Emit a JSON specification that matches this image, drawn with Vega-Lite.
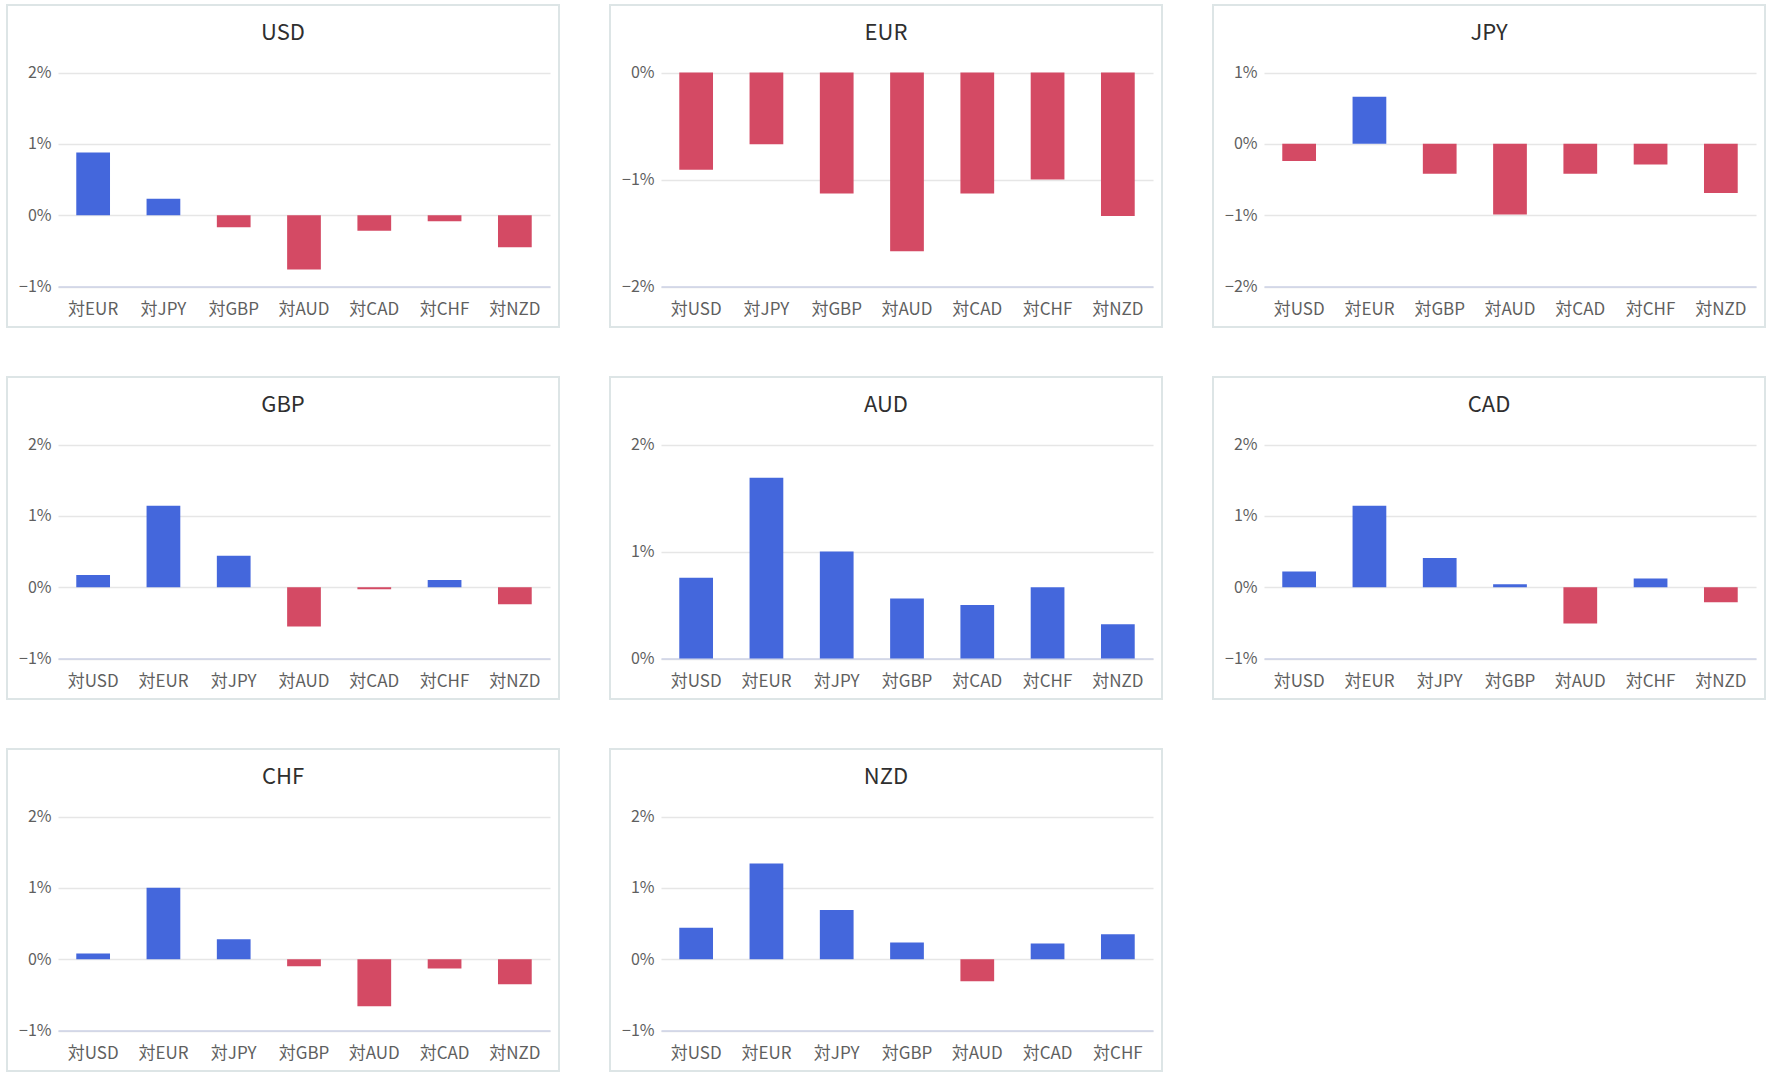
{
  "$schema": "https://vega.github.io/schema/vega-lite/v6.json",
  "padding": {"left": 6, "top": 4, "right": 0, "bottom": 0},
  "background": "white",
  "data": {"name": "fx"},
  "datasets": {
    "fx": [
      {"base": "USD", "target": "対EUR", "value": 0.88},
      {"base": "USD", "target": "対JPY", "value": 0.23},
      {"base": "USD", "target": "対GBP", "value": -0.17},
      {"base": "USD", "target": "対AUD", "value": -0.76},
      {"base": "USD", "target": "対CAD", "value": -0.22},
      {"base": "USD", "target": "対CHF", "value": -0.085},
      {"base": "USD", "target": "対NZD", "value": -0.45},
      {"base": "EUR", "target": "対USD", "value": -0.91},
      {"base": "EUR", "target": "対JPY", "value": -0.67},
      {"base": "EUR", "target": "対GBP", "value": -1.13},
      {"base": "EUR", "target": "対AUD", "value": -1.67},
      {"base": "EUR", "target": "対CAD", "value": -1.13},
      {"base": "EUR", "target": "対CHF", "value": -1.0},
      {"base": "EUR", "target": "対NZD", "value": -1.34},
      {"base": "JPY", "target": "対USD", "value": -0.24},
      {"base": "JPY", "target": "対EUR", "value": 0.66},
      {"base": "JPY", "target": "対GBP", "value": -0.42},
      {"base": "JPY", "target": "対AUD", "value": -0.99},
      {"base": "JPY", "target": "対CAD", "value": -0.42},
      {"base": "JPY", "target": "対CHF", "value": -0.29},
      {"base": "JPY", "target": "対NZD", "value": -0.69},
      {"base": "GBP", "target": "対USD", "value": 0.17},
      {"base": "GBP", "target": "対EUR", "value": 1.14},
      {"base": "GBP", "target": "対JPY", "value": 0.44},
      {"base": "GBP", "target": "対AUD", "value": -0.55},
      {"base": "GBP", "target": "対CAD", "value": -0.03},
      {"base": "GBP", "target": "対CHF", "value": 0.1},
      {"base": "GBP", "target": "対NZD", "value": -0.24},
      {"base": "AUD", "target": "対USD", "value": 0.755},
      {"base": "AUD", "target": "対EUR", "value": 1.69},
      {"base": "AUD", "target": "対JPY", "value": 1.0},
      {"base": "AUD", "target": "対GBP", "value": 0.56},
      {"base": "AUD", "target": "対CAD", "value": 0.5},
      {"base": "AUD", "target": "対CHF", "value": 0.665},
      {"base": "AUD", "target": "対NZD", "value": 0.32},
      {"base": "CAD", "target": "対USD", "value": 0.22},
      {"base": "CAD", "target": "対EUR", "value": 1.14},
      {"base": "CAD", "target": "対JPY", "value": 0.41},
      {"base": "CAD", "target": "対GBP", "value": 0.04},
      {"base": "CAD", "target": "対AUD", "value": -0.51},
      {"base": "CAD", "target": "対CHF", "value": 0.12},
      {"base": "CAD", "target": "対NZD", "value": -0.21},
      {"base": "CHF", "target": "対USD", "value": 0.08},
      {"base": "CHF", "target": "対EUR", "value": 1.0},
      {"base": "CHF", "target": "対JPY", "value": 0.28},
      {"base": "CHF", "target": "対GBP", "value": -0.1},
      {"base": "CHF", "target": "対AUD", "value": -0.66},
      {"base": "CHF", "target": "対CAD", "value": -0.13},
      {"base": "CHF", "target": "対NZD", "value": -0.35},
      {"base": "NZD", "target": "対USD", "value": 0.44},
      {"base": "NZD", "target": "対EUR", "value": 1.34},
      {"base": "NZD", "target": "対JPY", "value": 0.69},
      {"base": "NZD", "target": "対GBP", "value": 0.235},
      {"base": "NZD", "target": "対AUD", "value": -0.31},
      {"base": "NZD", "target": "対CAD", "value": 0.22},
      {"base": "NZD", "target": "対CHF", "value": 0.35}
    ]
  },
  "columns": 3,
  "spacing": {"row": 48, "column": 49},
  "concat": [
    {
      "transform": [{"filter": "datum.base === 'USD'"}],
      "title": "USD", "width": 552, "height": 322, "mark": "bar",
      "encoding": {
        "x": {"field": "target", "type": "nominal", "sort": null, "title": null, "scale": {"range": [51, 543], "paddingInner": 0.52, "paddingOuter": 0.26}},
        "y": {"field": "value", "type": "quantitative", "title": null, "scale": {"domain": [-1, 2], "range": [281.5, 67.5], "nice": false, "zero": false}, "axis": {"values": [-1, 0, 1, 2]}},
        "color": {"condition": {"test": "datum.value >= 0", "value": "#4467dc"}, "value": "#d44a64"}
      }
    },
    {
      "transform": [{"filter": "datum.base === 'EUR'"}],
      "title": "EUR", "width": 552, "height": 322, "mark": "bar",
      "encoding": {
        "x": {"field": "target", "type": "nominal", "sort": null, "title": null, "scale": {"range": [51, 543], "paddingInner": 0.52, "paddingOuter": 0.26}},
        "y": {"field": "value", "type": "quantitative", "title": null, "scale": {"domain": [-2, 0], "range": [281.5, 67.5], "nice": false, "zero": false}, "axis": {"values": [-2, -1, 0]}},
        "color": {"condition": {"test": "datum.value >= 0", "value": "#4467dc"}, "value": "#d44a64"}
      }
    },
    {
      "transform": [{"filter": "datum.base === 'JPY'"}],
      "title": "JPY", "width": 552, "height": 322, "mark": "bar",
      "encoding": {
        "x": {"field": "target", "type": "nominal", "sort": null, "title": null, "scale": {"range": [51, 543], "paddingInner": 0.52, "paddingOuter": 0.26}},
        "y": {"field": "value", "type": "quantitative", "title": null, "scale": {"domain": [-2, 1], "range": [281.5, 67.5], "nice": false, "zero": false}, "axis": {"values": [-2, -1, 0, 1]}},
        "color": {"condition": {"test": "datum.value >= 0", "value": "#4467dc"}, "value": "#d44a64"}
      }
    },
    {
      "transform": [{"filter": "datum.base === 'GBP'"}],
      "title": "GBP", "width": 552, "height": 322, "mark": "bar",
      "encoding": {
        "x": {"field": "target", "type": "nominal", "sort": null, "title": null, "scale": {"range": [51, 543], "paddingInner": 0.52, "paddingOuter": 0.26}},
        "y": {"field": "value", "type": "quantitative", "title": null, "scale": {"domain": [-1, 2], "range": [281.5, 67.5], "nice": false, "zero": false}, "axis": {"values": [-1, 0, 1, 2]}},
        "color": {"condition": {"test": "datum.value >= 0", "value": "#4467dc"}, "value": "#d44a64"}
      }
    },
    {
      "transform": [{"filter": "datum.base === 'AUD'"}],
      "title": "AUD", "width": 552, "height": 322, "mark": "bar",
      "encoding": {
        "x": {"field": "target", "type": "nominal", "sort": null, "title": null, "scale": {"range": [51, 543], "paddingInner": 0.52, "paddingOuter": 0.26}},
        "y": {"field": "value", "type": "quantitative", "title": null, "scale": {"domain": [0, 2], "range": [281.5, 67.5], "nice": false, "zero": false}, "axis": {"values": [0, 1, 2]}},
        "color": {"condition": {"test": "datum.value >= 0", "value": "#4467dc"}, "value": "#d44a64"}
      }
    },
    {
      "transform": [{"filter": "datum.base === 'CAD'"}],
      "title": "CAD", "width": 552, "height": 322, "mark": "bar",
      "encoding": {
        "x": {"field": "target", "type": "nominal", "sort": null, "title": null, "scale": {"range": [51, 543], "paddingInner": 0.52, "paddingOuter": 0.26}},
        "y": {"field": "value", "type": "quantitative", "title": null, "scale": {"domain": [-1, 2], "range": [281.5, 67.5], "nice": false, "zero": false}, "axis": {"values": [-1, 0, 1, 2]}},
        "color": {"condition": {"test": "datum.value >= 0", "value": "#4467dc"}, "value": "#d44a64"}
      }
    },
    {
      "transform": [{"filter": "datum.base === 'CHF'"}],
      "title": "CHF", "width": 552, "height": 322, "mark": "bar",
      "encoding": {
        "x": {"field": "target", "type": "nominal", "sort": null, "title": null, "scale": {"range": [51, 543], "paddingInner": 0.52, "paddingOuter": 0.26}},
        "y": {"field": "value", "type": "quantitative", "title": null, "scale": {"domain": [-1, 2], "range": [281.5, 67.5], "nice": false, "zero": false}, "axis": {"values": [-1, 0, 1, 2]}},
        "color": {"condition": {"test": "datum.value >= 0", "value": "#4467dc"}, "value": "#d44a64"}
      }
    },
    {
      "transform": [{"filter": "datum.base === 'NZD'"}],
      "title": "NZD", "width": 552, "height": 322, "mark": "bar",
      "encoding": {
        "x": {"field": "target", "type": "nominal", "sort": null, "title": null, "scale": {"range": [51, 543], "paddingInner": 0.52, "paddingOuter": 0.26}},
        "y": {"field": "value", "type": "quantitative", "title": null, "scale": {"domain": [-1, 2], "range": [281.5, 67.5], "nice": false, "zero": false}, "axis": {"values": [-1, 0, 1, 2]}},
        "color": {"condition": {"test": "datum.value >= 0", "value": "#4467dc"}, "value": "#d44a64"}
      }
    }
  ],
  "config": {
    "font": "Noto Sans CJK JP",
    "view": {"stroke": "#dde5e6", "strokeWidth": 2},
    "title": {"anchor": "middle", "baseline": "middle", "offset": -40, "fontSize": 22, "fontWeight": "normal", "color": "#2f2f2f", "font": "Noto Sans CJK JP"},
    "axisX": {"orient": "bottom", "offset": -40.5, "domain": true, "domainColor": "#cdd2e6", "domainWidth": 1.5, "ticks": false, "grid": false, "labelAngle": 0, "labelPadding": 15, "labelFontSize": 17, "labelColor": "#5f5f5f", "labelFont": "Noto Sans CJK JP"},
    "axisY": {"offset": 0, "domain": false, "ticks": false, "grid": true, "gridColor": "#e6e6e6", "gridWidth": 1.5, "labelPadding": -44, "labelFontSize": 16, "labelColor": "#5f5f5f", "labelFont": "Noto Sans CJK JP", "labelExpr": "format(datum.value, 'd') + '%'"}
  }
}
